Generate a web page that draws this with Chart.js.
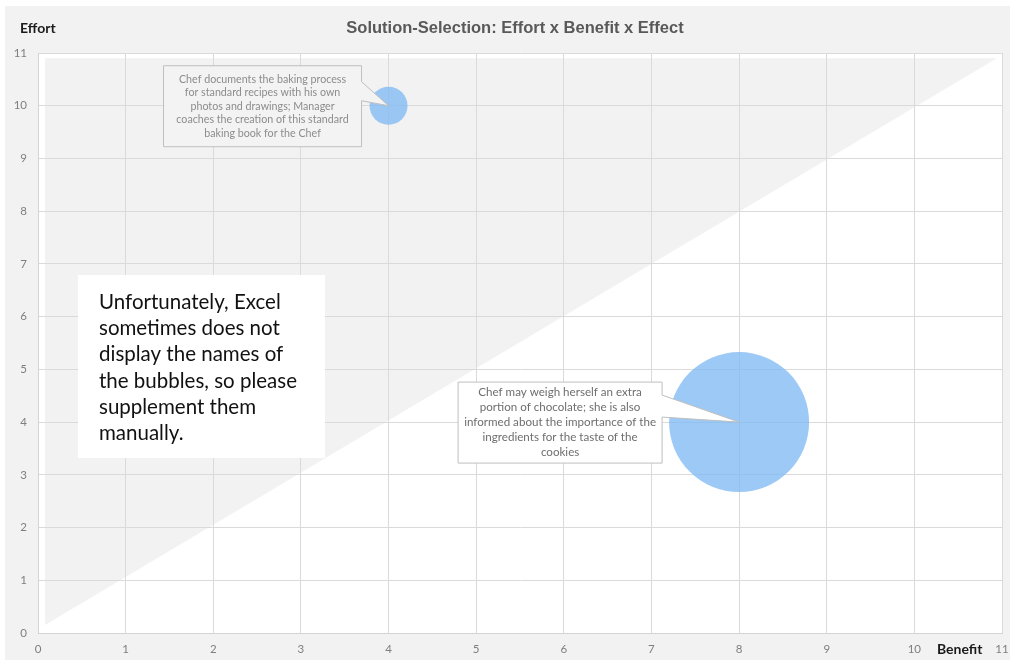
<!DOCTYPE html>
<html>
<head>
<meta charset="utf-8">
<script src="https://cdn.jsdelivr.net/npm/chart.js@4/dist/chart.umd.min.js"></script>
<style>
  html, body { margin: 0; padding: 0; background: #ffffff; }
  #wrap { width: 1010px; height: 660px; }
</style>
</head>
<body>
<div id="wrap"><canvas id="c" width="1010" height="660"></canvas></div>
<script>
// ---- data ----
const chartTitle = "Solution-Selection: Effort x Benefit x Effect";
const xAxisTitle = "Benefit";
const yAxisTitle = "Effort";
const benefit = [4, 8];          // x values
const effort = [10, 4];          // y values
const effect = [19, 70];         // bubble size (radius)
const bubbleNames = [
  ["Chef documents the baking process", "for standard recipes with his own", "photos and drawings; Manager", "coaches the creation of this standard", "baking book for the Chef"],
  ["Chef may weigh herself an extra", "portion of chocolate; she is also", "informed about the importance of the", "ingredients for the taste of the", "cookies"]
];
const noteLines = ["Unfortunately, Excel", "sometimes does not", "display the names of", "the bubbles, so please", "supplement them", "manually."];
const axisMin = 0, axisMax = 11, axisStep = 1;
// triangle zone above the diagonal (benefit, effort corners)
const zoneX = [0.08, 0.08, 10.94];
const zoneY = [0.15, 10.9, 10.9];

// ---- styles / layout ----
const FONT = "Lato, 'Open Sans', sans-serif";
const calloutStyle = [
  { box: [-225, -40, 198, 81], wedge: [[-27, -24], [-27, -5]], fill: '#f3f3f3', text: '#8c8c8c', lineH: 13.5, size: 10.7 },
  { box: [-281, -40, 204, 81], wedge: [[-77, -27], [-77, -5]], fill: '#ffffff', text: '#6e6e6e', lineH: 15, size: 11.6 }
];

const bgPlugin = {
  id: 'bg',
  beforeDraw(chart) {
    const ctx = chart.ctx, a = chart.chartArea;
    const sx = chart.scales.x, sy = chart.scales.y;
    ctx.save();
    ctx.fillStyle = '#f2f2f2';
    ctx.fillRect(5, 6, 1005, 654);
    ctx.fillStyle = '#ffffff';
    ctx.fillRect(a.left, a.top, a.right - a.left, a.bottom - a.top);
    ctx.beginPath();
    zoneX.forEach((x, i) => {
      const px = sx.getPixelForValue(x), py = sy.getPixelForValue(zoneY[i]);
      if (i === 0) ctx.moveTo(px, py); else ctx.lineTo(px, py);
    });
    ctx.closePath();
    ctx.fillStyle = '#f2f2f2';
    ctx.fill();
    // titles
    ctx.fillStyle = '#595959';
    ctx.font = "bold 16.5px 'Liberation Sans', Arial, sans-serif";
    ctx.textAlign = 'center';
    ctx.textBaseline = 'middle';
    ctx.fillText(chartTitle, 515, 28);
    ctx.fillStyle = '#1a1a1a';
    ctx.font = "bold 14px " + FONT;
    ctx.textAlign = 'left';
    ctx.fillText(yAxisTitle, 20, 28);
    ctx.fillText(xAxisTitle, 937, 649);
    ctx.restore();
  }
};

const overlayPlugin = {
  id: 'overlay',
  afterDatasetsDraw(chart) {
    const ctx = chart.ctx;
    const meta = chart.getDatasetMeta(0);
    ctx.save();
    meta.data.forEach((pt, i) => {
      const st = calloutStyle[i];
      const cx = pt.x, cy = pt.y;
      const [bx, by, bw, bh] = st.box;
      const L = cx + bx, T = cy + by, R = L + bw, B = T + bh;
      const w1 = cy + st.wedge[0][1], w2 = cy + st.wedge[1][1];
      ctx.beginPath();
      ctx.moveTo(L, T);
      ctx.lineTo(R, T);
      ctx.lineTo(R, w1);
      ctx.lineTo(cx, cy);
      ctx.lineTo(R, w2);
      ctx.lineTo(R, B);
      ctx.lineTo(L, B);
      ctx.closePath();
      ctx.fillStyle = st.fill;
      ctx.fill();
      ctx.strokeStyle = '#bfbfbf';
      ctx.lineWidth = 1;
      ctx.stroke();
      ctx.fillStyle = st.text;
      ctx.font = st.size + "px " + FONT;
      ctx.textAlign = 'center';
      ctx.textBaseline = 'middle';
      const lines = bubbleNames[i];
      const mid = (T + B) / 2;
      lines.forEach((ln, k) => {
        ctx.fillText(ln, (L + R) / 2, mid + (k - (lines.length - 1) / 2) * st.lineH);
      });
    });
    // note box
    ctx.fillStyle = '#ffffff';
    ctx.fillRect(78, 275, 247, 183);
    ctx.fillStyle = '#111111';
    ctx.font = "20.5px " + FONT;
    ctx.textAlign = 'left';
    ctx.textBaseline = 'middle';
    noteLines.forEach((ln, k) => ctx.fillText(ln, 99, 302 + k * 26.3));
    ctx.restore();
  }
};

const tickFont = { family: FONT, size: 11.5 };
new Chart(document.getElementById('c'), {
  type: 'bubble',
  data: {
    datasets: [{
      label: 'Solutions',
      data: benefit.map((b, i) => ({ x: b, y: effort[i], r: effect[i] })),
      backgroundColor: 'rgba(128,186,244,0.78)',
      borderWidth: 0,
      hoverRadius: 0
    }]
  },
  options: {
    responsive: false,
    animation: false,
    events: [],
    layout: { autoPadding: false, padding: { left: 0, top: 53, right: 8, bottom: 0 } },
    plugins: { legend: { display: false }, tooltip: { enabled: false }, title: { display: false } },
    scales: {
      x: {
        type: 'linear', min: axisMin, max: axisMax,
        ticks: { stepSize: axisStep, padding: 9, color: '#7f7f7f', font: tickFont },
        grid: { color: '#dadada', drawTicks: false, lineWidth: 1 },
        border: { color: '#d4d4d4' },
        afterFit: s => { s.height = 27; s.paddingLeft = 0; s.paddingRight = 0; }
      },
      y: {
        type: 'linear', min: axisMin, max: axisMax,
        ticks: { stepSize: axisStep, padding: 11, color: '#7f7f7f', font: tickFont },
        grid: { color: '#dadada', drawTicks: false, lineWidth: 1 },
        border: { color: '#d4d4d4' },
        afterFit: s => { s.width = 38; s.paddingTop = 0; s.paddingBottom = 0; }
      }
    }
  },
  plugins: [bgPlugin, overlayPlugin]
});
</script>
</body>
</html>
